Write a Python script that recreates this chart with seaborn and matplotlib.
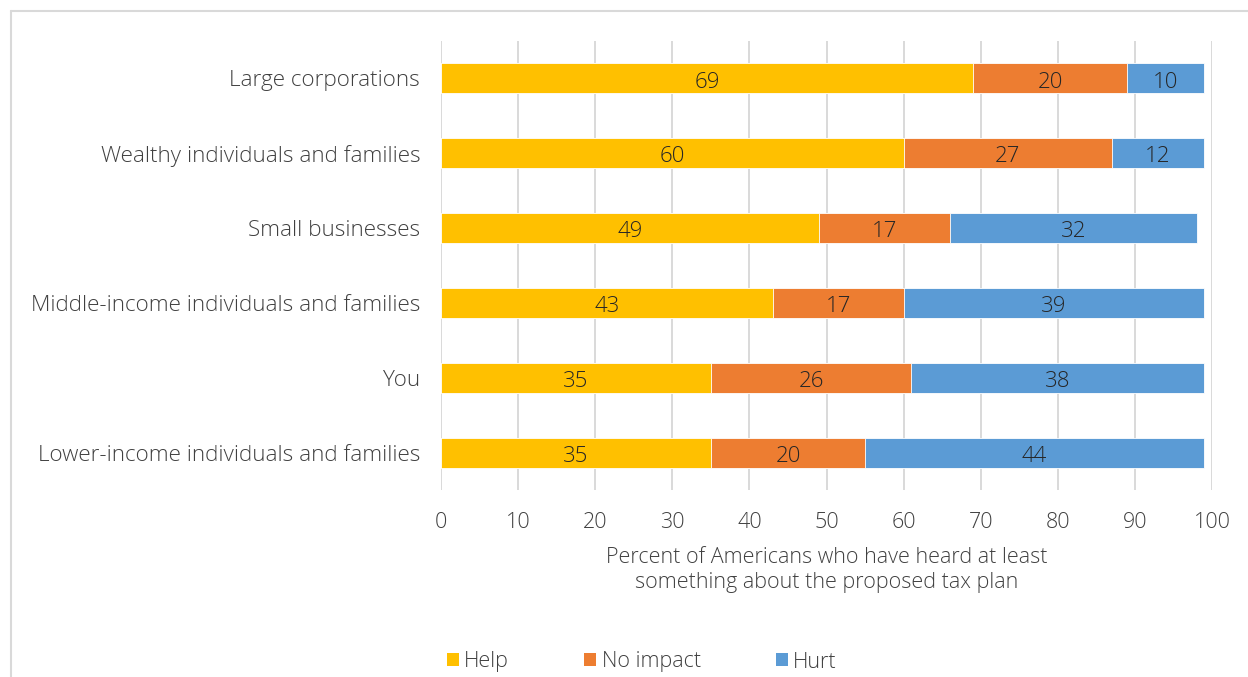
import matplotlib
matplotlib.use("Agg")
import matplotlib.pyplot as plt
from matplotlib.lines import Line2D
from matplotlib.patches import Patch
import seaborn as sns
import pandas as pd
import numpy as np

# Survey groups, top to bottom
groups = [
    "Large corporations",
    "Wealthy individuals and families",
    "Small businesses",
    "Middle-income individuals and families",
    "You",
    "Lower-income individuals and families",
]
help_vals = [69, 60, 49, 43, 35, 35]
no_impact_vals = [20, 27, 17, 17, 26, 20]
hurt_vals = [10, 12, 32, 39, 38, 44]

series_names = ["Help", "No impact", "Hurt"]
series_colors = ["#FFC000", "#ED7D31", "#5B9BD5"]
x_ticks = [0, 10, 20, 30, 40, 50, 60, 70, 80, 90, 100]
x_title = "Percent of Americans who have heard at least\nsomething about the proposed tax plan"

sns.set_theme(style="white")
plt.rcParams["font.family"] = ["Open Sans", "DejaVu Sans"]
plt.rcParams["font.weight"] = "light"
plt.rcParams["axes.labelweight"] = "light"
text_color = "#404040"
fs = 15.5

df = pd.DataFrame({
    "group": groups,
    "Help": help_vals,
    "No impact": no_impact_vals,
    "Hurt": hurt_vals,
})
# running totals: each stacked segment ends at its cumulative value
cum = df[series_names].cumsum(axis=1)

fig = plt.figure(figsize=(12.48, 6.77), dpi=100)
ax = fig.add_axes([441 / 1248, 1 - 490 / 677, (1212 - 441) / 1248, (490 - 41) / 677])

# draw longest (cumulative) bars first so shorter ones overlay them
for name, color in reversed(list(zip(series_names, series_colors))):
    sns.barplot(x=cum[name], y=df["group"], color=color, orient="h",
                width=0.4, ax=ax, zorder=2, saturation=1,
                edgecolor="#FFFFFF", linewidth=0.6)

# segment value labels
starts = cum[series_names].shift(1, axis=1).fillna(0)
for i in range(len(groups)):
    for name in series_names:
        v = df[name].iloc[i]
        ax.text(starts[name].iloc[i] + v / 2, i + 0.05, f"{v}", ha="center", va="center",
                fontsize=16, color="#262626", zorder=3, fontweight="light")

ax.set_xlim(0, 100)
ax.set_ylim(len(groups) - 0.5, -0.5)
ax.set_xticks(x_ticks)
ax.set_xticklabels([str(t) for t in x_ticks])
ax.tick_params(axis="y", length=0, pad=15, labelsize=16.2, labelcolor=text_color)
ax.tick_params(axis="x", length=0, pad=16, labelsize=fs, labelcolor=text_color)
ax.xaxis.grid(True, color="#D9D9D9", linewidth=1.4, zorder=0)
ax.yaxis.grid(False)
ax.set_axisbelow(True)
for s in ax.spines.values():
    s.set_visible(False)
ax.set_xlabel(x_title, fontsize=fs, color=text_color, labelpad=10, linespacing=1.25,
              fontweight="light")
ax.set_ylabel("")

handles = [Patch(facecolor=c, edgecolor="none") for c in series_colors]
fig.legend(handles, series_names, loc="center left",
           bbox_to_anchor=(447 / 1248, 1 - 662 / 677),
           ncol=3, frameon=False, fontsize=fs, labelcolor=text_color,
           handlelength=0.55, handleheight=0.55, handletextpad=0.25,
           columnspacing=3.5, borderpad=0, borderaxespad=0)

# chart frame
fig.add_artist(Line2D([10.5 / 1248, 1], [1 - 11 / 677, 1 - 11 / 677],
                      transform=fig.transFigure, color="#D9D9D9", linewidth=1.5))
fig.add_artist(Line2D([10.5 / 1248, 10.5 / 1248], [0, 1 - 11 / 677],
                      transform=fig.transFigure, color="#D9D9D9", linewidth=1.5))

fig.savefig("out.png", dpi=100, facecolor="white")
